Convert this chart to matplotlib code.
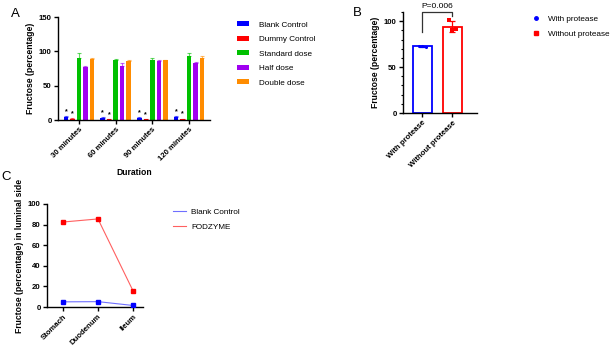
import numpy as np
import matplotlib
matplotlib.use("Agg")
import matplotlib.pyplot as plt
from matplotlib.patches import Patch
from matplotlib.lines import Line2D

plt.rcParams['font.family'] = ['Liberation Sans', 'DejaVu Sans']

# ---------------- data ----------------
durations = ["30 minutes", "60 minutes", "90 minutes", "120 minutes"]
groups_a = ["Blank Control", "Dummy Control", "Standard dose", "Half dose", "Double dose"]
blank_ctrl = [4.8, 3.0, 3.5, 4.4]
dummy_ctrl = [2.0, 1.0, 1.0, 1.5]
standard_dose = [90.5, 87.5, 88.0, 92.5]
half_dose = [77.5, 78.0, 86.0, 83.5]
double_dose = [88.5, 86.0, 87.0, 90.5]
blank_err = [1.0, 0.8, 1.0, 1.0]
dummy_err = [0.8, 0.6, 0.6, 0.6]
standard_err = [6.5, 1.5, 3.0, 5.0]
half_err = [1.5, 5.0, 1.0, 1.5]
double_err = [2.0, 1.0, 1.0, 3.0]
star_groups = ["Blank Control", "Dummy Control"]

cats_b = ["With protease", "Without protease"]
with_protease = [73.0, 73.2, 72.3]
without_protease = [101.5, 90.0, 91.0]
p_text = "P=0.006"

sites = ["Stomach", "Duodenum", "Ileum"]
blank_c = [5.0, 5.2, 1.5]
fodzyme = [82.5, 85.5, 16.0]

colors_a = ["#0000ff", "#ff0000", "#00c000", "#a000f0", "#ff8c00"]

W, H = 610, 346
fig = plt.figure(figsize=(W / 100, H / 100), dpi=100)

TICK_FS = 5.6
LAB_FS = 6.2
LEG_FS = 5.9

def ax_px(l, t, r, b):
    return fig.add_axes([l / W, 1 - b / H, (r - l) / W, (b - t) / H])

def style(ax):
    for s in ["top", "right"]:
        ax.spines[s].set_visible(False)
    for s in ["left", "bottom"]:
        ax.spines[s].set_linewidth(1.0)
    ax.tick_params(direction="out", length=3, width=1.0, labelsize=TICK_FS, pad=1.5)
    for lab in ax.get_yticklabels() + ax.get_xticklabels():
        lab.set_fontweight("bold")

# ---------------- Panel A ----------------
axA = ax_px(58, 17, 210, 120)
vals = [blank_ctrl, dummy_ctrl, standard_dose, half_dose, double_dose]
errs = [blank_err, dummy_err, standard_err, half_err, double_err]
x = np.arange(len(durations))
step, bw = 0.177, 0.123
for i, (g, v, e, c) in enumerate(zip(groups_a, vals, errs, colors_a)):
    xs = x + (i - 2) * step
    axA.bar(xs, v, width=bw, color=c, label=g, zorder=2)
    axA.errorbar(xs, v, yerr=[np.zeros(len(e)), e], fmt="none", ecolor=c,
                 alpha=0.6, elinewidth=0.8, capsize=1.2, capthick=0.8, zorder=2)
    if g in star_groups:
        for xx, vv, ee in zip(xs, v, e):
            axA.text(xx, vv + ee + 1.5, "*", ha="center", va="bottom",
                     fontsize=5, fontweight="bold")
axA.set_xlim(-0.57, 3.57)
axA.set_ylim(0, 150)
axA.set_yticks([0, 50, 100, 150])
axA.set_xticks(x)
axA.set_xticklabels(durations, rotation=45, ha="right", rotation_mode="anchor")
axA.set_ylabel("Fructose (percentage)", fontsize=LAB_FS, fontweight="bold", labelpad=3)
axA.set_xlabel("Duration", fontsize=LAB_FS, fontweight="bold", labelpad=4)
style(axA)
fig.legend(handles=[Patch(facecolor=c, label=g) for g, c in zip(groups_a, colors_a)],
           loc="upper left", bbox_to_anchor=(234 / W, 1 - 18 / H), frameon=False,
           fontsize=LEG_FS, handlelength=1.4, handleheight=0.6, labelspacing=0.85,
           handletextpad=1.2, borderaxespad=0)
fig.text(15 / W, 1 - 14 / H, "A", fontsize=9.5, ha="center", va="center")

# ---------------- Panel B ----------------
axB = ax_px(403, 12, 477, 113)
bcols = ["#0000ff", "#ff0000"]
markers = ["o", "s"]
pts = [with_protease, without_protease]
for i, (p, c, m, lab) in enumerate(zip(pts, bcols, markers, cats_b)):
    mean, sd = np.mean(p), np.std(p, ddof=1)
    axB.bar(i, mean, width=0.63, facecolor="white", edgecolor=c, linewidth=1.3, zorder=1)
    axB.errorbar(i, mean, yerr=sd, fmt="none", ecolor=c, elinewidth=0.9,
                 capsize=2.5, capthick=0.9, zorder=3)
    offs = np.linspace(-0.12, 0.12, len(p))
    axB.scatter(i + offs, p, s=5, color=c, marker=m, zorder=4, linewidths=0)
axB.plot([0, 0, 1, 1], [88.5, 110, 110, 106], color="#333333", lw=0.9, clip_on=False)
axB.text(0.5, 112.5, p_text, ha="center", va="bottom", fontsize=6)
axB.set_xlim(-0.65, 1.82)
axB.set_ylim(0, 110)
axB.set_yticks([0, 50, 100])
axB.set_yticks(np.arange(0, 111, 10), minor=True)
axB.tick_params(axis="y", which="minor", length=1.5, width=0.8)
axB.set_xticks([0, 1])
axB.set_xticklabels(cats_b, rotation=45, ha="right", rotation_mode="anchor")
axB.set_ylabel("Fructose (percentage)", fontsize=LAB_FS, fontweight="bold", labelpad=3)
style(axB)
fig.legend(handles=[Line2D([], [], ls="none", marker=m, color=c, markersize=2.5, label=l)
                    for m, c, l in zip(markers, bcols, cats_b)],
           loc="upper left", bbox_to_anchor=(528 / W, 1 - 12 / H), frameon=False,
           fontsize=LEG_FS, handlelength=1.2, labelspacing=0.85, handletextpad=0.8,
           borderaxespad=0)
fig.text(357 / W, 1 - 13 / H, "B", fontsize=9.5, ha="center", va="center")

# ---------------- Panel C ----------------
axC = ax_px(47, 204, 143, 307)
xc = np.arange(len(sites))
axC.plot(xc, blank_c, color="#6f6fff", lw=0.8, label="Blank Control", zorder=2)
axC.plot(xc, blank_c, ls="none", marker="s", color="#0000ff", markersize=3, zorder=3)
axC.plot(xc, fodzyme, color="#ff6060", lw=0.8, label="FODZYME", zorder=2)
axC.plot(xc, fodzyme, ls="none", marker="s", color="#ff0000", markersize=3, zorder=3)
axC.set_xlim(-0.46, 2.29)
axC.set_ylim(0, 100)
axC.set_yticks(np.arange(0, 101, 20))
axC.set_xticks(xc)
axC.set_xticklabels(sites, rotation=45, ha="right", rotation_mode="anchor")
axC.set_ylabel("Fructose (percentage) in luminal side", fontsize=LAB_FS, fontweight="bold", labelpad=3)
style(axC)
fig.legend(handles=[Line2D([], [], color="#6f6fff", lw=0.8, label="Blank Control"),
                    Line2D([], [], color="#ff6060", lw=0.8, label="FODZYME")],
           loc="upper left", bbox_to_anchor=(170 / W, 1 - 205 / H), frameon=False,
           fontsize=LEG_FS, handlelength=1.6, labelspacing=0.85, handletextpad=0.6,
           borderaxespad=0)
fig.text(6 / W, 1 - 177 / H, "C", fontsize=9.5, ha="center", va="center")

fig.savefig("out.png", dpi=100)
